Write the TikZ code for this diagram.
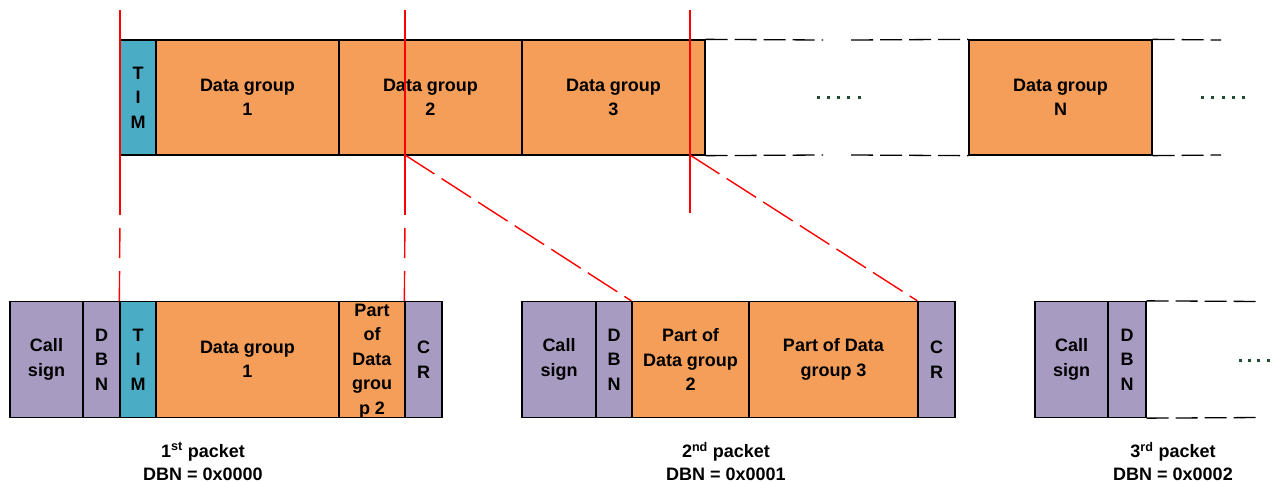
\documentclass[tikz,border=0pt]{standalone}
\usepackage{fontspec}
\setmainfont{Liberation Sans}
\definecolor{dgorange}{HTML}{F59E59}
\definecolor{timteal}{HTML}{4BACC6}
\definecolor{hdrpurple}{HTML}{A89BC1}
\definecolor{dotgreen}{HTML}{1E4D2F}
\begin{document}
\begin{tikzpicture}[x=1pt,y=-1pt,
  cell/.style={draw=black, line width=1.3pt, inner sep=0pt, align=center,
    font=\fontsize{18}{24.5}\selectfont\bfseries},
  toprow/.style={cell, minimum height=115pt},
  botrow/.style={cell, minimum height=116pt},
  orangecell/.style={fill=dgorange},
  tealcell/.style={fill=timteal},
  purplecell/.style={fill=hdrpurple},
  caption/.style={inner sep=0pt, align=center, font=\fontsize{18}{23}\selectfont\bfseries},
  redsolid/.style={red, line width=1.4pt},
  reddash/.style={red, line width=1.4pt, dash pattern=on 0pt off 13pt on 30pt off 0pt},
  reddiag/.style={red, line width=1.4pt, dash pattern=on 35pt off 8.5pt},
  blackdash/.style={black, line width=1.3pt, dash pattern=on 22pt off 7pt},
  dotmark/.style={fill=dotgreen}
]
\useasboundingbox (0,0) rectangle (1275,482);

% ---------- top row ----------
\node[toprow, tealcell,   minimum width=36pt]  (tTIM) at (138,97.5)   {T\\I\\M};
\node[toprow, orangecell, minimum width=183pt] (tDG1) at (247.5,97.5) {Data group\\1};
\node[toprow, orangecell, minimum width=183pt] (tDG2) at (430.5,97.5) {Data group\\2};
\node[toprow, orangecell, minimum width=183pt] (tDG3) at (613.5,97.5) {Data group\\3};
\node[toprow, orangecell, minimum width=183pt] (tDGN) at (1060.5,97.5) {Data group\\N};

\coordinate (tgapA) at (823,40);
\coordinate (tgapB) at (851,40);
\coordinate (tgapC) at (823,155);
\coordinate (tgapD) at (851,155);
\coordinate (tendT) at (1221,40);
\coordinate (tendB) at (1221,155);
\draw[blackdash] (tDG3.north east) -- (tgapA);
\draw[blackdash] (tgapB) -- (tDGN.north west);
\draw[blackdash] (tDGN.north east) -- (tendT);
\draw[blackdash] (tDG3.south east) -- (tgapC);
\draw[blackdash] (tgapD) -- (tDGN.south west);
\draw[blackdash] (tDGN.south east) -- (tendB);

\foreach \i in {0,...,4} {
  \fill[dotmark] (816.5+\i*10.3,96.2) rectangle ++(3,3);
  \fill[dotmark] (1200.8+\i*10.4,96.2) rectangle ++(3,3);
}

% ---------- bottom row: packet 1 ----------
\node[botrow, purplecell, minimum width=73pt]  (pCall1) at (46.5,359.5)  {Call\\sign};
\node[botrow, purplecell, minimum width=37pt]  (pDBN1)  at (101.5,359.5) {D\\B\\N};
\node[botrow, tealcell,   minimum width=36pt]  (pTIM1)  at (138,359.5)   {T\\I\\M};
\node[botrow, orangecell, minimum width=183pt] (pDG1)   at (247.5,359.5) {Data group\\1};
\node[botrow, orangecell, minimum width=66pt]  (pPart1) at (372,359.5)   {};
\node[cell, draw=none, anchor=center] (pPart1txt) at (372,361) {Part\\of\\Data\\grou\\p 2};
\node[botrow, purplecell, minimum width=37pt]  (pCR1)   at (423.5,359.5) {C\\R};

% ---------- packet 2 ----------
\node[botrow, purplecell, minimum width=74pt]  (pCall2) at (559,359.5)   {Call\\sign};
\node[botrow, purplecell, minimum width=36pt]  (pDBN2)  at (614,359.5)   {D\\B\\N};
\node[botrow, orangecell, minimum width=117pt] (pPart2) at (690.5,359.5) {Part of\\Data group\\2};
\node[botrow, orangecell, minimum width=169pt] (pPart3) at (833.5,359.5) {Part of Data\\group 3};
\node[botrow, purplecell, minimum width=37pt]  (pCR2)   at (936.5,359.5) {C\\R};

% ---------- packet 3 ----------
\node[botrow, purplecell, minimum width=73pt]  (pCall3) at (1071.5,359.5) {Call\\sign};
\node[botrow, purplecell, minimum width=38pt]  (pDBN3)  at (1127,359.5)   {D\\B\\N};
\coordinate (p3endT) at (1262,301.5);
\coordinate (p3endB) at (1262,417.5);
\draw[blackdash] (pDBN3.north east) -- (p3endT);
\draw[blackdash] (pDBN3.south east) -- (p3endB);
\foreach \i in {0,...,3} {
  \fill[dotmark] (1238.5+\i*9.4,358.5) rectangle ++(3,3);
}

% ---------- captions ----------
\node[caption] (cap1) at (203,461.5)  {1\textsuperscript{st} packet\\DBN = 0x0000};
\node[caption] (cap2) at (726,461.5)  {2\textsuperscript{nd} packet\\DBN = 0x0001};
\node[caption] (cap3) at (1173,461.5) {3\textsuperscript{rd} packet\\DBN = 0x0002};

% ---------- red guide lines ----------
\coordinate (rAtop) at (120,10);
\coordinate (rAmid) at (120,215);
\coordinate (rBtop) at (405,10);
\coordinate (rBmid) at (405,215);
\coordinate (rBcut) at (405,155);
\coordinate (rCtop) at (690,10);
\coordinate (rCmid) at (690,213);
\coordinate (rCcut) at (690,155);
\draw[redsolid] (rAtop) -- (rAmid);
\draw[reddash]  (rAmid) -- (pTIM1.north west);
\draw[redsolid] (rBtop) -- (rBmid);
\draw[reddash]  (rBmid) -- (pCR1.north west);
\draw[redsolid] (rCtop) -- (rCmid);
\draw[reddiag]  (rBcut) -- (pPart2.north west);
\draw[reddiag]  (rCcut) -- (pCR2.north west);
\end{tikzpicture}
\end{document}
